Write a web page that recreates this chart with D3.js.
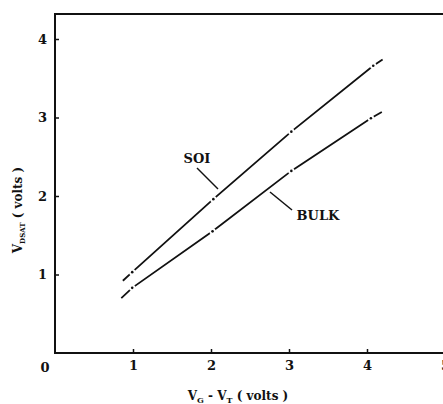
<!DOCTYPE html>
<html lang="en">
<head>
<meta charset="utf-8">
<title>VDSAT vs VG - VT</title>
<script src="https://cdn.jsdelivr.net/npm/d3@7"></script>
<style>
  body { margin: 0; background: #fff; }
  text { font-family: "DejaVu Serif", "Liberation Serif", serif; font-weight: bold; fill: #111; }
</style>
</head>
<body>
<script>
// data
var xTicks = [1, 2, 3, 4, 5];
var yTicks = [1, 2, 3, 4];
// SOI curve: ends of the drawn line plus the measured points
var soiX = [0.87, 0.99, 2.03, 3.03, 4.08, 4.2];
var soiY = [0.92, 1.03, 1.96, 2.82, 3.66, 3.74];
// BULK curve
var bulkX = [0.85, 0.99, 2.02, 3.03, 4.05, 4.19];
var bulkY = [0.70, 0.83, 1.55, 2.32, 2.99, 3.07];
var markIdx = [1, 2, 3, 4];

var width = 443, height = 404;
var svg = d3.select("body").append("svg")
    .attr("width", width)
    .attr("height", height);

var x = d3.scaleLinear().domain([0, 5]).range([55, 445]);
var y = d3.scaleLinear().domain([0, 4]).range([353, 39]);

// frame (open on the right, cut by the page edge)
svg.append("path")
    .attr("d", "M" + width + "," + 14 + "H" + x(0) + "V" + y(0) + "H" + width)
    .attr("fill", "none")
    .attr("stroke", "#111")
    .attr("stroke-width", 2);

// axes with small inward ticks
var xAxis = d3.axisBottom(x).tickValues(xTicks).tickFormat(d3.format("d"))
    .tickSizeInner(-4).tickSizeOuter(0).tickPadding(8);
var gx = svg.append("g").attr("transform", "translate(0," + y(0) + ")").call(xAxis);
gx.select(".domain").remove();
gx.selectAll("line").attr("stroke", "#111").attr("stroke-width", 1.5);
gx.selectAll("text").style("font-size", "13px").attr("fill", "#111");

var yAxis = d3.axisLeft(y).tickValues(yTicks).tickFormat(d3.format("d"))
    .tickSizeInner(-4).tickSizeOuter(0).tickPadding(8);
var gy = svg.append("g").attr("transform", "translate(" + x(0) + ",0)").call(yAxis);
gy.select(".domain").remove();
gy.selectAll("line").attr("stroke", "#111").attr("stroke-width", 1.5);
gy.selectAll("text").style("font-size", "13px").attr("fill", "#111");

// origin label
svg.append("text").attr("x", 45).attr("y", 372)
    .attr("text-anchor", "middle").style("font-size", "13px").text("0");

// axis titles
var xt = svg.append("text").attr("x", 238).attr("y", 400)
    .attr("text-anchor", "middle").style("font-size", "12px");
xt.append("tspan").text("V");
xt.append("tspan").attr("dy", 3).style("font-size", "8px").text("G");
xt.append("tspan").attr("dy", -3).text(" - V");
xt.append("tspan").attr("dy", 3).style("font-size", "8px").text("T");
xt.append("tspan").attr("dy", -3).text(" ( volts )");

var yt = svg.append("text")
    .attr("transform", "translate(22,210) rotate(-90)")
    .attr("text-anchor", "middle").style("font-size", "12px");
yt.append("tspan").text("V");
yt.append("tspan").attr("dy", 3).style("font-size", "7px").text("DSAT");
yt.append("tspan").attr("dy", -3).text(" ( volts )");

// curves
var line = d3.line().x(function(d) { return x(d[0]); }).y(function(d) { return y(d[1]); });
function drawCurve(xs, ys) {
  var pts = xs.map(function(v, i) { return [v, ys[i]]; });
  svg.append("path").datum(pts)
      .attr("d", line)
      .attr("fill", "none")
      .attr("stroke", "#111")
      .attr("stroke-width", 1.8);
  var marks = markIdx.map(function(i) { return pts[i]; });
  svg.selectAll(null).data(marks).enter().append("circle")
      .attr("cx", function(d) { return x(d[0]); })
      .attr("cy", function(d) { return y(d[1]); })
      .attr("r", 3.2).attr("fill", "#fff");
  svg.selectAll(null).data(marks).enter().append("circle")
      .attr("cx", function(d) { return x(d[0]); })
      .attr("cy", function(d) { return y(d[1]); })
      .attr("r", 1.3).attr("fill", "#111");
}
drawCurve(soiX, soiY);
drawCurve(bulkX, bulkY);

// curve labels with leader lines
svg.append("text").attr("x", 197).attr("y", 163)
    .attr("text-anchor", "middle").style("font-size", "13px").text("SOI");
svg.append("line").attr("x1", 197).attr("y1", 168).attr("x2", 218).attr("y2", 189)
    .attr("stroke", "#111").attr("stroke-width", 1.5);

svg.append("text").attr("x", 318).attr("y", 220)
    .attr("text-anchor", "middle").style("font-size", "13px").text("BULK");
svg.append("line").attr("x1", 270).attr("y1", 192).attr("x2", 292).attr("y2", 210)
    .attr("stroke", "#111").attr("stroke-width", 1.5);
</script>
</body>
</html>
